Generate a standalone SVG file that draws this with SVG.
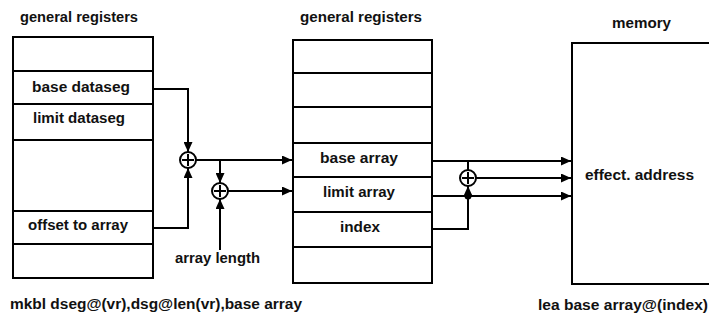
<svg xmlns="http://www.w3.org/2000/svg" width="709" height="327" viewBox="0 0 709 327">
<style>
  .box { fill: none; stroke: #000; stroke-width: 2; }
  .ln { fill: none; stroke: #000; stroke-width: 2; }
  .t { font-family: "Liberation Sans", Arial, sans-serif; font-weight: bold; font-size: 14.5px; fill: #111; }
</style>
<defs>
  <marker id="ah" markerUnits="userSpaceOnUse" markerWidth="11" markerHeight="9" refX="10" refY="4.5" orient="auto">
    <path d="M0,0 L10,4.5 L0,9 z" fill="#000"/>
  </marker>
</defs>
<rect width="709" height="327" fill="#fff"/>

<g id="left-registers">
  <text class="t" x="20" y="22" textLength="118" lengthAdjust="spacingAndGlyphs">general registers</text>
  <rect class="box" x="13" y="37" width="140" height="241"/>
  <path class="ln" d="M13,71 H153 M13,104 H153 M13,140 H153 M13,211 H153 M13,244 H153"/>
  <text class="t" x="32" y="92" textLength="98" lengthAdjust="spacingAndGlyphs">base dataseg</text>
  <text class="t" x="33" y="123" textLength="92" lengthAdjust="spacingAndGlyphs">limit dataseg</text>
  <text class="t" x="28" y="230" textLength="100" lengthAdjust="spacingAndGlyphs">offset to array</text>
</g>

<g id="adder1">
  <circle class="ln" cx="188" cy="160" r="8"/>
  <path class="ln" d="M182,160 H194 M188,154 V166"/>
</g>

<g id="adder2">
  <circle class="ln" cx="220" cy="191" r="8"/>
  <path class="ln" d="M214,191 H226 M220,185 V197"/>
</g>

<g id="array-length">
  <text class="t" x="175" y="263" textLength="85" lengthAdjust="spacingAndGlyphs">array length</text>
</g>

<g id="middle-registers">
  <text class="t" x="300" y="22" textLength="122" lengthAdjust="spacingAndGlyphs">general registers</text>
  <rect class="box" x="293" y="40" width="139" height="243"/>
  <path class="ln" d="M293,73 H432 M293,107 H432 M293,143 H432 M293,177 H432 M293,212 H432 M293,247 H432"/>
  <text class="t" x="320" y="163" textLength="78" lengthAdjust="spacingAndGlyphs">base array</text>
  <text class="t" x="323" y="197" textLength="72" lengthAdjust="spacingAndGlyphs">limit array</text>
  <text class="t" x="340" y="232" textLength="40" lengthAdjust="spacingAndGlyphs">index</text>
</g>

<g id="adder3">
  <circle class="ln" cx="468" cy="178" r="8"/>
  <path class="ln" d="M462,178 H474 M468,172 V184"/>
</g>

<g id="memory">
  <text class="t" x="612" y="28" textLength="59" lengthAdjust="spacingAndGlyphs">memory</text>
  <path class="box" d="M712,43 H572 V284 H712"/>
  <text class="t" x="585" y="180" textLength="109" lengthAdjust="spacingAndGlyphs">effect. address</text>
</g>

<g id="connectors">
  <path class="ln" d="M153,89 H188 V152" marker-end="url(#ah)"/>
  <path class="ln" d="M153,228 H188 V168" marker-end="url(#ah)"/>
  <path class="ln" d="M196,160 H292" marker-end="url(#ah)"/>
  <path class="ln" d="M220,160 V183" marker-end="url(#ah)"/>
  <path class="ln" d="M228,191 H292" marker-end="url(#ah)"/>
  <path class="ln" d="M220,250 V199" marker-end="url(#ah)"/>
  <path class="ln" d="M432,161 H571" marker-end="url(#ah)"/>
  <path class="ln" d="M468,161 V170"/>
  <path class="ln" d="M476,178 H571" marker-end="url(#ah)"/>
  <path class="ln" d="M432,196 H571" marker-end="url(#ah)"/>
  <path class="ln" d="M432,229 H468 V186" marker-end="url(#ah)"/>
  <circle cx="468" cy="196" r="3.5" fill="#000"/>
</g>

<text class="t" x="10" y="309" textLength="292" lengthAdjust="spacingAndGlyphs">mkbl dseg@(vr),dsg@len(vr),base array</text>
<text class="t" x="538" y="310" textLength="170" lengthAdjust="spacingAndGlyphs">lea base array@(index)</text>
</svg>
